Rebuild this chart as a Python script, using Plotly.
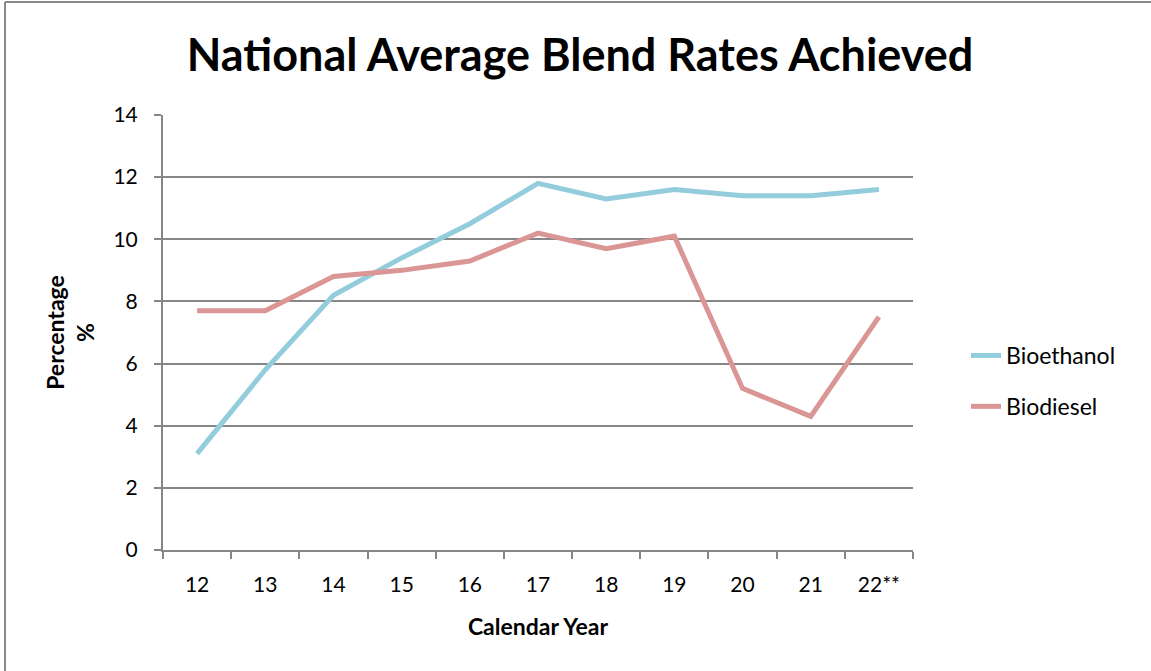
import plotly.graph_objects as go

# Calendar years (20xx) and national average blend rates, %
years = ["12", "13", "14", "15", "16", "17", "18", "19", "20", "21", "22**"]
bioethanol = [3.1, 5.8, 8.2, 9.4, 10.5, 11.8, 11.3, 11.6, 11.4, 11.4, 11.6]
biodiesel = [7.7, 7.7, 8.8, 9.0, 9.3, 10.2, 9.7, 10.1, 5.2, 4.3, 7.5]
y_ticks = [0, 2, 4, 6, 8, 10, 12, 14]

W, H = 1151, 671
L, R, T, B = 163, 238, 115, 121
pw, ph = W - L - R, H - T - B

FONT = "Lato"
AXIS_GREY = "#868686"

fig = go.Figure()
fig.add_trace(go.Scatter(x=years, y=bioethanol, name="Bioethanol", mode="lines",
                         legendgroup="eth",
                         line=dict(color="#93CDDD", width=5)))
fig.add_trace(go.Scatter(x=years, y=biodiesel, name="Biodiesel", mode="lines",
                         legendgroup="die",
                         line=dict(color="#D99694", width=5)))

# Outer chart frame (top and left edges)
fig.add_shape(type="line", xref="paper", yref="paper",
              x0=(5 - L) / pw, x1=(W - L) / pw,
              y0=(H - B - 2) / ph, y1=(H - B - 2) / ph,
              line=dict(color="#8a8a8a", width=2))
fig.add_shape(type="line", xref="paper", yref="paper",
              x0=(5 - L) / pw, x1=(5 - L) / pw,
              y0=(H - B - 2) / ph, y1=-B / ph,
              line=dict(color="#8a8a8a", width=2))

fig.update_layout(
    width=W, height=H,
    margin=dict(l=L, r=R, t=T, b=B),
    paper_bgcolor="white", plot_bgcolor="white",
    font=dict(family=FONT, color="black"),
    title=dict(text="<b>National Average Blend Rates Achieved</b>",
               x=580 / W, xanchor="center", y=1 - 55 / H, yanchor="middle",
               font=dict(size=45, family=FONT, color="black")),
    legend=dict(x=(966 - L) / pw, y=(H - B - 334) / ph, xanchor="left", yanchor="top",
                font=dict(size=23, family=FONT), tracegroupgap=18,
                bgcolor="rgba(0,0,0,0)"),
    showlegend=True,
)

fig.update_xaxes(
    type="category", range=[-0.5, 10.5],
    tickson="boundaries", ticks="outside", ticklen=7, tickcolor=AXIS_GREY, tickwidth=2,
    showline=True, linecolor=AXIS_GREY, linewidth=2,
    showgrid=False, tickfont=dict(size=21, family=FONT), ticklabelstandoff=15,
    title=dict(text="<b>Calendar Year</b>", font=dict(size=23, family=FONT), standoff=24),
)
fig.update_yaxes(
    range=[0, 14], tickvals=y_ticks,
    ticks="outside", ticklen=7, tickcolor=AXIS_GREY, tickwidth=2,
    showline=True, linecolor=AXIS_GREY, linewidth=2,
    showgrid=True, gridcolor=AXIS_GREY, gridwidth=1.5,
    zeroline=False, tickfont=dict(size=21, family=FONT), ticklabelstandoff=12,
    title=dict(text="<b>Percentage<br>%</b>", font=dict(size=23, family=FONT), standoff=12),
)

fig.write_html("out.html")
